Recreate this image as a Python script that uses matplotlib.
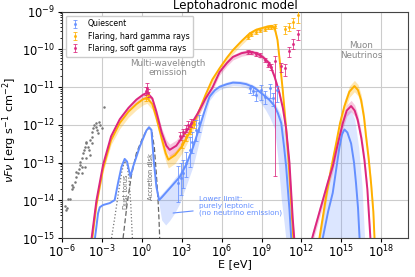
import numpy as np
import matplotlib.pyplot as plt

# colours (IBM colour-blind palette)
c_q = "#648FFF"
c_h = "#FFB000"
c_s = "#DC267F"

# ---- model curves: log10(E/eV), log10(nuFnu), band offsets (dex) ----
q_logE = [-3.55, -3.40, -3.28, -3.15, -2.90, -2.40, -2.03, -1.78, -1.52, -1.28, -1.10, -0.85,
          -0.65, -0.15, 0.35, 0.55, 0.73, 0.90, 1.10, 1.30, 1.50, 1.80, 2.10, 2.50, 2.85, 3.35,
          3.85, 4.35, 4.75, 5.10, 5.50, 5.85, 6.40, 6.85, 7.40, 7.85, 8.40, 8.85, 9.30, 9.60,
          9.98, 10.23, 10.48, 10.70, 10.85, 11.00, 11.10, 11.25]
q_logF = [-15.1, -14.69, -14.34, -14.18, -14.12, -14.07, -13.99, -13.54, -13.11, -12.90, -12.97,
          -13.37, -13.11, -12.58, -12.15, -12.06, -12.13, -12.93, -13.63, -13.99, -13.92, -13.80,
          -13.68, -13.52, -13.38, -13.05, -12.60, -12.05, -11.60, -11.25, -11.08, -10.99, -10.92,
          -10.88, -10.89, -10.92, -11.00, -11.12, -11.25, -11.34, -11.50, -11.69, -11.95, -12.60,
          -13.10, -13.80, -14.25, -15.10]
q_dlo = [0, 0, 0, 0, 0, 0, 0, 0, 0, 0, 0, 0, 0, 0, 0, 0, 0, 0, 0.05, 0.1, 0.6, 0.85, 0.85, 0.8,
         0.7, 0.55, 0.5, 0.35, 0.2, 0.1, 0.08, 0.08, 0.08, 0.08, 0.08, 0.1, 0.15, 0.25, 0.35, 0.45,
         0.6, 1.2, 2.0, 2.0, 2.0, 1.5, 1.0, 0.5]
q_dhi = [0, 0, 0, 0, 0, 0, 0, 0, 0, 0, 0, 0, 0, 0, 0, 0, 0, 0, 0.05, 0.1, 0.1, 0.1, 0.1, 0.12,
         0.12, 0.12, 0.12, 0.12, 0.1, 0.08, 0.06, 0.06, 0.06, 0.06, 0.06, 0.06, 0.06, 0.06, 0.08,
         0.08, 0.1, 0.12, 0.2, 0.5, 0.7, 0.8, 0.9, 1.0]

h_logE = [-3.75, -3.40, -2.90, -2.30, -1.65, -1.00, -0.40, 0.10, 0.40, 0.80, 1.10, 1.50, 1.80,
          2.00, 2.50, 3.00, 3.60, 4.20, 4.80, 5.30, 5.85, 6.40, 6.85, 7.50, 8.10, 8.60, 9.10,
          9.50, 9.80, 10.00, 10.20, 10.40, 10.60, 10.80, 11.00, 11.20, 11.40]
h_logF = [-15.1, -14.1, -13.15, -12.4, -11.95, -11.65, -11.45, -11.32, -11.28, -11.45, -11.8,
          -12.35, -12.75, -12.92, -12.8, -12.58, -12.2, -11.72, -11.2, -10.8, -10.5, -10.22,
          -10.02, -9.78, -9.58, -9.48, -9.43, -9.39, -9.38, -9.45, -9.75, -10.4, -11.1, -11.9,
          -12.8, -13.9, -15.1]
h_dlo = [0.1, 0.1, 0.1, 0.12, 0.15, 0.15, 0.15, 0.15, 0.15, 0.15, 0.15, 0.2, 0.2, 0.22, 0.22,
         0.18, 0.15, 0.12, 0.1, 0.1, 0.1, 0.1, 0.1, 0.1, 0.1, 0.08, 0.08, 0.08, 0.08, 0.1, 0.1,
         0.1, 0.1, 0.1, 0.1, 0.1, 0.1]
h_dhi = [0.05, 0.05, 0.05, 0.05, 0.05, 0.05, 0.05, 0.05, 0.05, 0.05, 0.05, 0.08, 0.1, 0.1, 0.1,
         0.1, 0.1, 0.08, 0.06, 0.05, 0.05, 0.05, 0.05, 0.05, 0.05, 0.05, 0.05, 0.05, 0.05, 0.05,
         0.05, 0.05, 0.05, 0.05, 0.05, 0.05, 0.05]

s_logE = [-3.80, -3.40, -2.90, -2.30, -1.65, -1.00, -0.40, 0.10, 0.40, 0.80, 1.10, 1.50, 1.85,
          2.10, 2.60, 3.00, 3.60, 4.20, 4.80, 5.30, 5.85, 6.40, 6.85, 7.50, 8.10, 8.60, 9.10,
          9.60, 9.98, 10.35, 10.60, 10.85, 11.10, 11.35, 11.48]
s_logF = [-15.1, -14.0, -13.05, -12.3, -11.85, -11.55, -11.33, -11.2, -11.15, -11.3, -11.65,
          -12.2, -12.55, -12.66, -12.55, -12.35, -12.05, -11.7, -11.3, -11.02, -10.6, -10.36,
          -10.2, -10.1, -10.06, -10.1, -10.2, -10.37, -10.72, -11.16, -11.55, -12.1, -13.0,
          -14.5, -15.1]
s_dlo = [0.08, 0.08, 0.08, 0.08, 0.08, 0.08, 0.08, 0.08, 0.08, 0.08, 0.1, 0.12, 0.15, 0.18,
         0.18, 0.15, 0.12, 0.1, 0.1, 0.08, 0.08, 0.08, 0.08, 0.08, 0.08, 0.08, 0.08, 0.08, 0.1,
         0.1, 0.1, 0.1, 0.1, 0.1, 0.1]
s_dhi = [0.05, 0.05, 0.05, 0.05, 0.05, 0.05, 0.05, 0.05, 0.05, 0.05, 0.08, 0.12, 0.15, 0.15,
         0.15, 0.12, 0.1, 0.08, 0.08, 0.06, 0.06, 0.06, 0.06, 0.06, 0.06, 0.06, 0.06, 0.06,
         0.06, 0.06, 0.06, 0.06, 0.06, 0.06, 0.06]

# ---- muon neutrinos ----
qn_logE = [13.60, 14.00, 14.35, 14.60, 14.85, 15.05, 15.23, 15.45, 15.73, 15.95, 16.10, 16.25, 16.38]
qn_logF = [-15.0, -14.3, -13.8, -13.2, -12.6, -12.25, -12.12, -12.2, -12.49, -13.0, -13.55, -14.2, -15.1]
qn_bandE = [13.3, 13.6, 14.0, 14.5, 15.0, 15.4, 15.7, 16.0, 16.3, 16.55, 16.75]
qn_bandF = [-15.05, -14.3, -13.6, -12.8, -12.0, -11.65, -11.6, -11.85, -12.6, -13.6, -15.05]

hn_logE = [13.35, 13.85, 14.20, 14.60, 14.90, 15.23, 15.60, 15.98, 16.25, 16.48, 16.70, 16.85,
           17.05, 17.23, 17.40, 17.50]
hn_logF = [-15.0, -13.9, -13.2, -12.5, -11.95, -11.5, -11.12, -10.97, -11.08, -11.34, -11.8,
           -12.3, -12.9, -13.55, -14.3, -15.1]

sn_logE = [12.80, 13.20, 13.60, 14.00, 14.35, 14.70, 15.10, 15.40, 15.73, 16.00, 16.23, 16.50,
           16.73, 16.95, 17.18]
sn_logF = [-15.0, -14.5, -14.0, -13.5, -13.1, -12.55, -11.96, -11.62, -11.5, -11.62, -11.87,
           -12.35, -12.93, -13.7, -15.0]

# ---- thermal components ----
torus_logE = [-2.27, -2.0, -1.75, -1.5, -1.28, -1.1, -0.95, -0.82, -0.70]
torus_logF = [-15.0, -14.4, -13.8, -13.25, -12.95, -13.05, -13.45, -14.1, -15.0]
disk_logE = [-1.40, -1.10, -0.77, -0.40, 0.0, 0.35, 0.55, 0.75, 0.95, 1.10, 1.22, 1.30, 1.35]
disk_logF = [-15.0, -14.1, -13.33, -12.75, -12.4, -12.15, -12.08, -12.15, -12.6, -13.3, -13.95, -14.5, -15.0]

# ---- archival radio/IR points (grey) ----
arch_logE = [-5.78, -5.70, -5.60, -5.53, -5.40, -5.27, -5.15, -5.20, -5.03, -4.95, -4.90, -4.78,
             -4.70, -4.65, -4.52, -4.60, -4.45, -4.40, -4.35, -4.28, -4.20, -4.15, -4.03, -3.95,
             -3.90, -3.77, -3.70, -3.65, -3.57, -3.45, -3.40, -3.35, -3.28, -3.20, -3.10, -3.02,
             -3.70, -3.90, -4.15, -4.28, -4.52, -2.83]
arch_logF = [-14.16, -14.25, -14.21, -13.96, -13.96, -13.70, -13.65, -13.59, -13.50, -13.39,
             -13.24, -13.28, -13.18, -13.06, -13.11, -12.97, -12.88, -12.75, -12.66, -12.58,
             -12.49, -12.44, -12.58, -12.66, -12.40, -12.31, -12.18, -12.09, -12.00, -12.05,
             -11.94, -12.13, -12.22, -11.92, -12.00, -12.09, -12.49, -12.80, -12.88, -13.11,
             -13.28, -11.52]

# ---- measured SED points: log10 E, log10 F, lower err, upper err (dex) ----
q_pE = [2.72, 2.95, 3.10, 3.35, 3.60, 3.80, 4.10, 4.30, 8.10, 8.35, 8.60, 8.98, 9.23, 9.60, 9.85, 10.15]
q_pF = [-13.55, -13.40, -13.28, -13.02, -12.66, -12.45, -12.13, -11.95, -11.03, -11.10, -11.21,
        -11.08, -11.25, -11.03, -11.30, -11.08]
q_pLo = [0.5, 0.45, 0.4, 0.35, 0.45, 0.3, 0.3, 0.25, 0.12, 0.12, 0.15, 0.25, 0.2, 0.25, 0.2, 0.3]
q_pHi = [0.45, 0.4, 0.35, 0.3, 0.35, 0.25, 0.25, 0.2, 0.1, 0.1, 0.12, 0.15, 0.15, 0.12, 0.15, 0.12]

h_pE = [0.35, 0.45, 3.00, 3.30, 3.60, 3.90, 7.97, 8.22, 8.60, 8.85, 9.23, 9.48, 9.73, 10.05,
        10.73, 11.05, 11.40, 11.73]
h_pF = [-11.28, -11.22, -12.5, -12.33, -12.15, -11.98, -9.67, -9.60, -9.53, -9.49, -9.45, -9.42,
        -9.40, -9.38, -9.47, -9.40, -9.28, -9.10]
h_pLo = [0.08, 0.08, 0.12, 0.1, 0.1, 0.1, 0.05, 0.05, 0.05, 0.05, 0.05, 0.05, 0.05, 0.05, 0.12,
         0.12, 0.15, 0.2]
h_pHi = [0.08, 0.08, 0.1, 0.1, 0.1, 0.08, 0.05, 0.05, 0.05, 0.05, 0.05, 0.05, 0.05, 0.05, 0.1,
         0.1, 0.12, 0.12]

s_pE = [0.35, 0.42, 0.48, 2.90, 3.10, 3.30, 3.50, 3.70, 7.97, 8.22, 8.60, 8.85, 9.23, 9.48, 9.73,
        10.05, 10.48, 10.73, 11.05, 11.40, 11.73]
s_pF = [-11.10, -11.02, -11.15, -12.30, -12.20, -12.10, -12.00, -11.95, -10.06, -10.08, -10.12,
        -10.15, -10.28, -10.40, -10.46, -10.30, -10.45, -10.50, -10.05, -9.85, -9.60]
s_pLo = [0.1, 0.12, 0.1, 0.1, 0.1, 0.1, 0.1, 0.1, 0.05, 0.05, 0.05, 0.05, 0.06, 0.06, 0.08, 3.05,
         0.15, 0.2, 0.15, 0.15, 0.15]
s_pHi = [0.1, 0.12, 0.1, 0.1, 0.1, 0.1, 0.1, 0.1, 0.05, 0.05, 0.05, 0.05, 0.06, 0.06, 0.08, 0.12,
         0.1, 0.12, 0.12, 0.12, 0.12]


def tolin(a):
    return 10.0 ** np.asarray(a)


def band(ax, lx, ly, dlo, dhi, col, alpha):
    ly = np.asarray(ly)
    ax.fill_between(tolin(lx), tolin(ly - np.asarray(dlo)), tolin(ly + np.asarray(dhi)),
                    color=col, alpha=alpha, lw=0)


def points(ax, lx, ly, lo, hi, col, label):
    ly = np.asarray(ly)
    y = tolin(ly)
    yerr = [y - tolin(ly - np.asarray(lo)), tolin(ly + np.asarray(hi)) - y]
    return ax.errorbar(tolin(lx), y, yerr=yerr, fmt="o", ms=1.2, color=col, elinewidth=0.7,
                       capsize=1.2, capthick=0.7, alpha=0.8, label=label, zorder=5)


fig, ax = plt.subplots(figsize=(4.15, 2.77), dpi=100)
fig.subplots_adjust(left=0.149, right=0.983, top=0.958, bottom=0.14)

ax.set_xscale("log")
ax.set_yscale("log")
ax.set_xlim(1e-6, 1e20)
ax.set_ylim(1e-15, 1e-9)

# bands
band(ax, q_logE, q_logF, q_dlo, q_dhi, c_q, 0.25)
band(ax, h_logE, h_logF, h_dlo, h_dhi, c_h, 0.3)
band(ax, s_logE, s_logF, s_dlo, s_dhi, c_s, 0.25)
ax.fill_between(tolin(qn_bandE), 1e-16, tolin(qn_bandF), color=c_q, alpha=0.22, lw=0)
band(ax, hn_logE, hn_logF, [0.15] * len(hn_logE), [0.15] * len(hn_logE), c_h, 0.3)
band(ax, sn_logE, sn_logF, [0.15] * len(sn_logE), [0.15] * len(sn_logE), c_s, 0.25)

# thermal
ax.plot(tolin(torus_logE), tolin(torus_logF), ls=":", color="#777777", lw=0.9)
ax.plot(tolin(disk_logE), tolin(disk_logF), ls=(0, (4, 2)), color="#666666", lw=0.9)

# models
ax.plot(tolin(h_logE), tolin(h_logF), color=c_h, lw=1.4)
ax.plot(tolin(s_logE), tolin(s_logF), color=c_s, lw=1.4)
ax.plot(tolin(q_logE), tolin(q_logF), color=c_q, lw=1.4)
ax.plot(tolin(hn_logE), tolin(hn_logF), color=c_h, lw=1.4)
ax.plot(tolin(sn_logE), tolin(sn_logF), color=c_s, lw=1.4)
ax.plot(tolin(qn_logE), tolin(qn_logF), color=c_q, lw=1.4)

# data
ax.plot(tolin(arch_logE), tolin(arch_logF), ls="none", marker=".", ms=1.6, color="#777777")
eq = points(ax, q_pE, q_pF, q_pLo, q_pHi, c_q, "Quiescent")
eh = points(ax, h_pE, h_pF, h_pLo, h_pHi, c_h, "Flaring, hard gamma rays")
es = points(ax, s_pE, s_pF, s_pLo, s_pHi, c_s, "Flaring, soft gamma rays")

# annotations
ax.text(10 ** 1.95, 10 ** -10.49, "Multi-wavelength\nemission", ha="center", va="center",
        fontsize=6.3, color="#888888", linespacing=1.1)
ax.text(10 ** 16.48, 10 ** -10.02, "Muon\nNeutrinos", ha="center", va="center",
        fontsize=6.3, color="#888888", linespacing=1.1)
ax.text(10 ** -1.15, 10 ** -13.77, "Dust torus", rotation=90, ha="center", va="center",
        fontsize=4.8, color="#666666")
ax.text(10 ** 0.67, 10 ** -13.37, "Accretion disk", rotation=90, ha="center", va="center",
        fontsize=4.8, color="#666666")
ax.annotate("Lower limit:\npurely leptonic\n(no neutrino emission)",
            xy=(10 ** 2.15, 10 ** -14.34), xytext=(10 ** 4.28, 10 ** -14.15),
            ha="left", va="center", fontsize=5.3, color=c_q, linespacing=1.1,
            arrowprops=dict(arrowstyle="-", color=c_q, lw=0.8))

ax.grid(True, which="major", color="#cccccc", lw=0.8)
ax.set_axisbelow(True)
ax.set_xticks([10.0 ** k for k in range(-6, 19, 3)])
ax.xaxis.set_minor_locator(plt.NullLocator())
ax.tick_params(labelsize=8.3, length=3, pad=2)
ax.tick_params(axis="x", pad=0.8)
ax.tick_params(which="minor", length=1.5)
for s in ax.spines.values():
    s.set_color("#444444")

ax.set_xlabel("E [eV]", fontsize=8, va="top")
ax.xaxis.set_label_coords(0.5, -0.094)
ax.set_ylabel(r"$\nu F \nu$ [erg s$^{-1}$ cm$^{-2}$]", fontsize=8.2)
ax.yaxis.set_label_coords(-0.124, 0.48)
ax.set_title("Leptohadronic model", fontsize=8.5, pad=1.5)

ax.legend(handles=[eq, eh, es], loc="upper left", fontsize=5.6, framealpha=1,
          edgecolor="#cccccc", borderpad=0.5, handlelength=1.5, labelspacing=0.4)

fig.savefig("out.png", dpi=100)
